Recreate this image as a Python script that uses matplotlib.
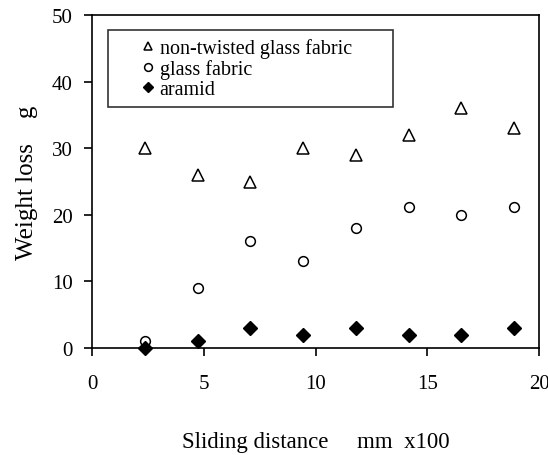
import matplotlib
matplotlib.use("Agg")
import matplotlib.pyplot as plt

# sliding distance (mm x100) and weight loss (g) per fabric
distance = [2.36, 4.72, 7.08, 9.44, 11.8, 14.16, 16.52, 18.88]
non_twisted_glass = [30, 26, 25, 30, 29, 32, 36, 33]
glass_fabric = [1, 9, 16, 13, 18, 21.2, 20, 21.2]
aramid = [0, 1, 3, 2, 3, 2, 2, 3]

plt.rcParams["font.family"] = ["Liberation Serif", "DejaVu Serif"]

fig = plt.figure(figsize=(5.48, 4.56), dpi=100)
ax = fig.add_axes([0.168, 0.2346, 0.8156, 0.7303])

ax.plot(distance, non_twisted_glass, ls="none", marker="^", ms=8,
        mfc="white", mec="black", mew=1.1, label="non-twisted glass fabric")
ax.plot(distance, glass_fabric, ls="none", marker="o", ms=7,
        mfc="white", mec="black", mew=1.1, label="glass fabric")
ax.plot(distance, aramid, ls="none", marker="D", ms=7,
        mfc="black", mec="black", mew=1.0, label="aramid", clip_on=False)

ax.set_xlim(0, 20)
ax.set_ylim(0, 50)
ax.set_xticks([0, 5, 10, 15, 20])
ax.set_yticks([0, 10, 20, 30, 40, 50])
ax.tick_params(direction="out", length=6, width=1.2, labelsize=15)
ax.tick_params(axis="x", pad=13)
ax.tick_params(axis="y", pad=8)
for s in ax.spines.values():
    s.set_linewidth(1.2)

ax.set_xlabel("Sliding distance     mm  x100", fontsize=16.5, labelpad=27)
ax.set_ylabel("Weight loss    g", fontsize=18, labelpad=10)

leg = ax.legend(loc="upper left", bbox_to_anchor=(0.036, 0.955, 0.637, 0.0),
                mode="expand", fontsize=14.5, frameon=True, fancybox=False,
                borderaxespad=0, borderpad=0.4, handlelength=3.2,
                handletextpad=-1.05, labelspacing=0.04, numpoints=1,
                markerscale=0.8)
leg.get_frame().set_edgecolor("black")
leg.get_frame().set_linewidth(1.2)

fig.savefig("out.png", dpi=100)
